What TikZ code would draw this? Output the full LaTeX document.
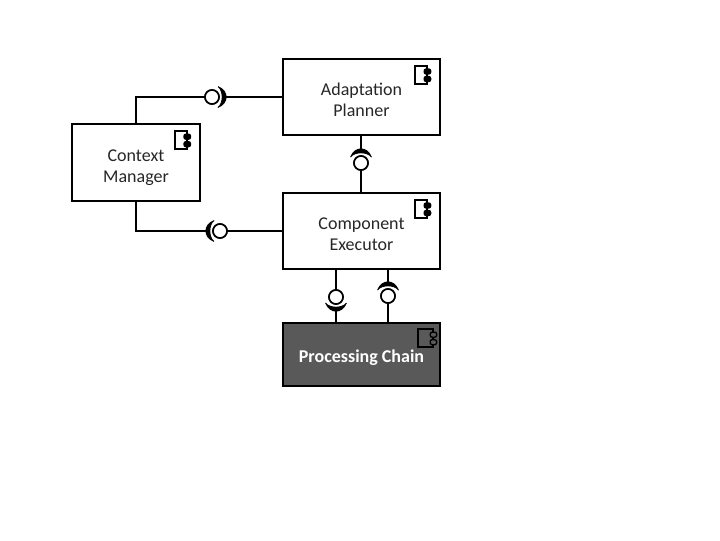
\documentclass[tikz,border=0pt]{standalone}
\usepackage{fontspec}
\setmainfont{Carlito}
\usepackage{xcolor}
\definecolor{chaingray}{HTML}{595959}
\tikzset{
    block/.style={draw,line width=1.6pt,outer sep=0pt,inner sep=0pt,align=center,text=black!85,font=\fontsize{13.5}{15.8}\selectfont},
    wire/.style={line width=1.6pt},
    ball/.style={circle,draw,fill=white,line width=1.2pt,minimum size=10.5pt,inner sep=0pt,outer sep=0pt},
    pics/socket/.style={code={
        \draw[line width=0.5pt,line join=round,fill] (6,-10.5) .. controls (17,-6) and (17,6) .. (6,10.5)
            .. controls (11.5,6) and (11.5,-6) .. (6,-10.5);
    }},
    pics/compicon/.style 2 args={code={
        \draw[line width=1.3pt] (0,0) rectangle (#1,18);
        \foreach \y in {5.5,13}
            \draw[line width=1pt,fill=#2,rounded corners=1.5pt] (#1-3,\y-2.5) rectangle (#1+3.5,\y+2.5);
    }},
}
\begin{document}
\begin{tikzpicture}[x=0.75pt,y=-0.75pt]
    \useasboundingbox (0,0) rectangle (720,540);

    % Components
    \node[block,minimum width=96pt,minimum height=57.5pt] (context) at (136,162.5) {\rule{0pt}{17pt}Context\\Manager};
    \node[block,minimum width=118pt,minimum height=57pt] (planner) at (361.5,97) {\rule{0pt}{13pt}Adaptation\\Planner};
    \node[block,minimum width=118pt,minimum height=57pt] (executor) at (361.5,231) {\rule{0pt}{13pt}Component\\Executor};
    \node[block,minimum width=118pt,minimum height=47pt,fill=chaingray,text=white,font=\fontsize{13.5}{15.8}\selectfont\bfseries] (chain) at (361.5,354.5) {\rule{0pt}{15pt}Processing Chain};

    % Component icons
    \foreach \n in {context,planner,executor}
        \pic at ([shift={(-25,7)}]\n.north east) {compicon={12}{black}};
    \pic at ([shift={(-22,6)}]chain.north east) {compicon={15}{chaingray}};

    % Provided interfaces
    \node[ball] (ctxball) at (212,97) {};
    \node[ball] (execball) at (220,231) {};
    \node[ball] (planball) at (361,163) {};
    \node[ball] (downball) at (336,297) {};
    \node[ball] (upball) at (388,296) {};

    % Free ends at the sockets
    \coordinate (ctxsock) at (225,97);
    \coordinate (execsock) at (207,231);
    \coordinate (plansock) at (361,150);
    \coordinate (downsock) at (336,310);
    \coordinate (upsock) at (388,283);

    % Wires
    \draw[wire] (context.north) |- (ctxball);
    \draw[wire] (planner.west) -- (ctxsock);
    \draw[wire] (context.south) |- (execsock);
    \draw[wire] (executor.west) -- (execball);
    \draw[wire] (planner.south -| plansock) -- (plansock);
    \draw[wire] (executor.north -| planball) -- (planball);
    \draw[wire] (executor.south -| downball) -- (downball);
    \draw[wire] (chain.north -| downsock) -- (downsock);
    \draw[wire] (executor.south -| upsock) -- (upsock);
    \draw[wire] (chain.north -| upball) -- (upball);

    % Sockets
    \pic[rotate=0] at (ctxball) {socket};
    \pic[rotate=180] at (execball) {socket};
    \pic[rotate=90] at (planball) {socket};
    \pic[rotate=-90] at (downball) {socket};
    \pic[rotate=90] at (upball) {socket};

    % Balls again over the wires
    \foreach \b in {ctxball,execball,planball,downball,upball}
        \node[ball] at (\b) {};
\end{tikzpicture}
\end{document}
